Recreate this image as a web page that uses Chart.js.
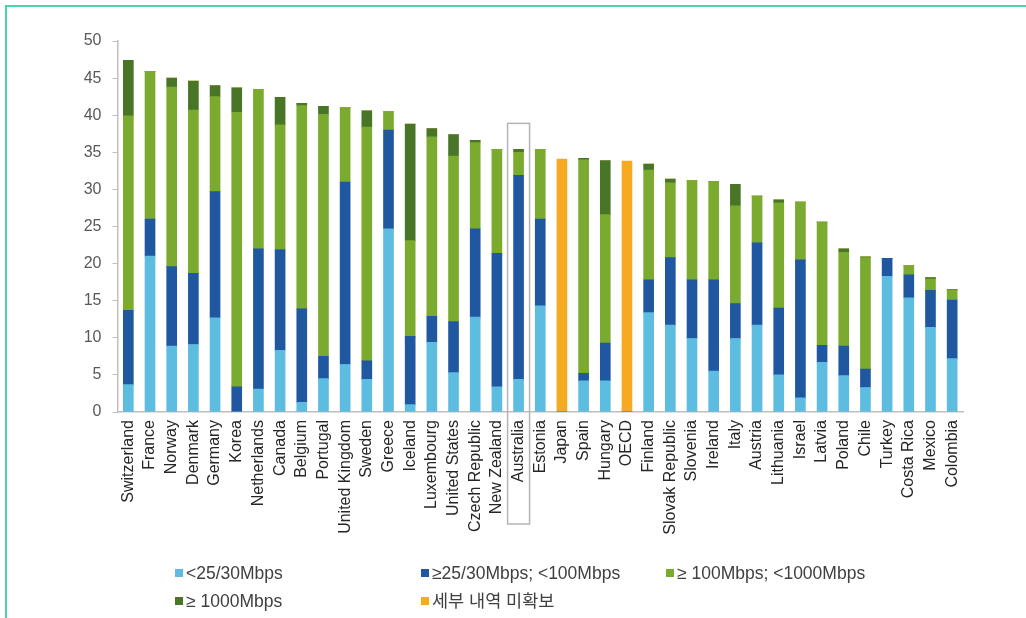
<!DOCTYPE html>
<html>
<head>
<meta charset="utf-8">
<script src="https://cdn.jsdelivr.net/npm/chart.js@4"></script>
<style>
  html, body { margin: 0; padding: 0; background: #fff; }
  #wrap { position: relative; width: 1026px; height: 618px; overflow: hidden; font-family: Arial, "Liberation Sans", "Noto Sans CJK KR", sans-serif; }
  #frame { position: absolute; left: 5px; top: 5px; width: 1030px; height: 620px; border-top: 2px solid #48d3b0; border-left: 2px solid #48d3b0; }
  #chart { position: absolute; left: 0; top: 0; }
  .lg { position: absolute; font-size: 17.5px; color: #404040; white-space: nowrap; line-height: 20px; }
  .lg i { display: inline-block; width: 8px; height: 8px; margin-right: 3px; vertical-align: 2px; }
</style>
</head>
<body>
<div id="wrap">
  <div id="frame"></div>
  <canvas id="chart" width="1026" height="618"></canvas>
  <div id="legend"></div>
</div>
<script>
// categories
const countries = ['Switzerland', 'France', 'Norway', 'Denmark', 'Germany', 'Korea', 'Netherlands', 'Canada', 'Belgium', 'Portugal',
    'United Kingdom', 'Sweden', 'Greece', 'Iceland', 'Luxembourg', 'United States', 'Czech Republic', 'New Zealand', 'Australia', 'Estonia',
    'Japan', 'Spain', 'Hungary', 'OECD', 'Finland', 'Slovak Republic', 'Slovenia', 'Ireland', 'Italy', 'Austria',
    'Lithuania', 'Israel', 'Latvia', 'Poland', 'Chile', 'Turkey', 'Costa Rica', 'Mexico', 'Colombia'];

// segment sizes per speed tier (subscriptions per 100 inhabitants)
const below25 = [3.7, 21.0, 8.9, 9.1, 12.7, 0, 3.1, 8.3, 1.3, 4.5,
    6.4, 4.4, 24.7, 1.0, 9.4, 5.3, 12.8, 3.4, 4.4, 14.3,
    0, 4.2, 4.2, 0, 13.4, 11.7, 9.9, 5.5, 9.9, 11.7,
    5.0, 1.9, 6.7, 4.9, 3.3, 18.3, 15.4, 11.4, 7.2];
const from25to100 = [10.0, 5.0, 10.7, 9.6, 17.0, 3.4, 18.9, 13.6, 12.6, 3.0,
    24.6, 2.5, 13.3, 9.2, 3.5, 6.9, 11.9, 18.0, 27.5, 11.7,
    0, 1.0, 5.1, 0, 4.4, 9.1, 7.9, 12.3, 4.7, 11.1,
    9.0, 18.6, 2.3, 4.0, 2.5, 2.4, 3.1, 5.0, 7.9];
const from100to1000 = [26.2, 19.9, 24.2, 22.0, 12.8, 37.0, 21.5, 16.8, 27.4, 32.6,
    10.0, 31.5, 2.5, 12.9, 24.2, 22.3, 11.6, 14.0, 3.1, 9.4,
    0, 28.8, 17.3, 0, 14.8, 10.1, 13.4, 13.3, 13.2, 6.3,
    14.2, 7.8, 16.6, 12.6, 15.0, 0, 1.2, 1.5, 1.3];
const above1000 = [7.5, 0, 1.2, 3.9, 1.5, 3.3, 0, 3.7, 0.3, 1.1,
    0, 2.2, 0, 15.7, 1.1, 2.9, 0.3, 0, 0.4, 0,
    0, 0.2, 7.3, 0, 0.8, 0.5, 0, 0, 2.9, 0,
    0.4, 0, 0, 0.5, 0.1, 0, 0, 0.2, 0.1];
const noBreakdown = [0, 0, 0, 0, 0, 0, 0, 0, 0, 0,
    0, 0, 0, 0, 0, 0, 0, 0, 0, 0,
    34.1, 0, 0, 33.8, 0, 0, 0, 0, 0, 0,
    0, 0, 0, 0, 0, 0, 0, 0, 0];

const yTicks = [0, 5, 10, 15, 20, 25, 30, 35, 40, 45, 50];
const seriesNames = ['<25/30Mbps', '≥25/30Mbps; <100Mbps', '≥ 100Mbps; <1000Mbps', '≥ 1000Mbps', '세부 내역 미확보'];
const seriesColors = ['#5cbde0', '#1f57a1', '#7aab2f', '#497527', '#f6aa22'];
const highlight = 'Australia';
const highlightTop = 38.9;

const axisGray = '#bfbfbf';

// gray box around the highlighted country, label included
const boxPlugin = {
    id: 'highlightBox',
    afterDatasetsDraw(chart) {
        const xs = chart.scales.x, ys = chart.scales.y;
        const i = countries.indexOf(highlight);
        const cx = xs.getPixelForValue(i);
        const top = ys.getPixelForValue(highlightTop);
        const bottom = chart.chartArea.bottom + 112;
        const ctx = chart.ctx;
        ctx.save();
        ctx.strokeStyle = '#b4b4b4';
        ctx.lineWidth = 1.5;
        ctx.strokeRect(cx - 11, top, 22, bottom - top);
        ctx.restore();
    }
};

const series = [below25, from25to100, from100to1000, above1000, noBreakdown];

new Chart(document.getElementById('chart'), {
    type: 'bar',
    data: {
        labels: countries,
        datasets: series.map((d, k) => ({
            label: seriesNames[k],
            data: d,
            backgroundColor: seriesColors[k],
            borderWidth: 0,
            barThickness: 10
        }))
    },
    options: {
        responsive: false,
        animation: false,
        layout: { padding: { top: 41, right: 63, bottom: 46, left: 0 } },
        plugins: {
            legend: { display: false },
            tooltip: { enabled: false }
        },
        scales: {
            x: {
                stacked: true,
                grid: { display: false },
                border: { display: true, color: axisGray, width: 1.5 },
                ticks: {
                    autoSkip: false,
                    maxRotation: 90,
                    minRotation: 90,
                    padding: 0,
                    color: '#262626',
                    font: { family: 'Arial, "Liberation Sans"', size: 16 }
                },
                afterFit: s => { s.height = 160; }
            },
            y: {
                stacked: true,
                min: 0,
                max: 50,
                grid: { drawOnChartArea: false, drawTicks: true, tickLength: 5, color: axisGray },
                border: { display: true, color: axisGray, width: 1.5 },
                afterBuildTicks: s => { s.ticks = yTicks.map(v => ({ value: v })); },
                ticks: {
                    padding: 11,
                    color: '#595959',
                    font: { family: 'Arial, "Liberation Sans"', size: 16 }
                },
                afterFit: s => { s.width = 117.5; }
            }
        }
    },
    plugins: [boxPlugin]
});

// legend laid out in two rows like the original
const legendSpots = [[175, 563], [421, 563], [666, 563], [175, 591], [421, 591]];
const legend = document.getElementById('legend');
seriesNames.forEach((name, k) => {
    const el = document.createElement('div');
    el.className = 'lg';
    el.style.left = legendSpots[k][0] + 'px';
    el.style.top = legendSpots[k][1] + 'px';
    el.innerHTML = '<i style="background:' + seriesColors[k] + '"></i>';
    el.appendChild(document.createTextNode(name));
    legend.appendChild(el);
});
</script>
</body>
</html>
